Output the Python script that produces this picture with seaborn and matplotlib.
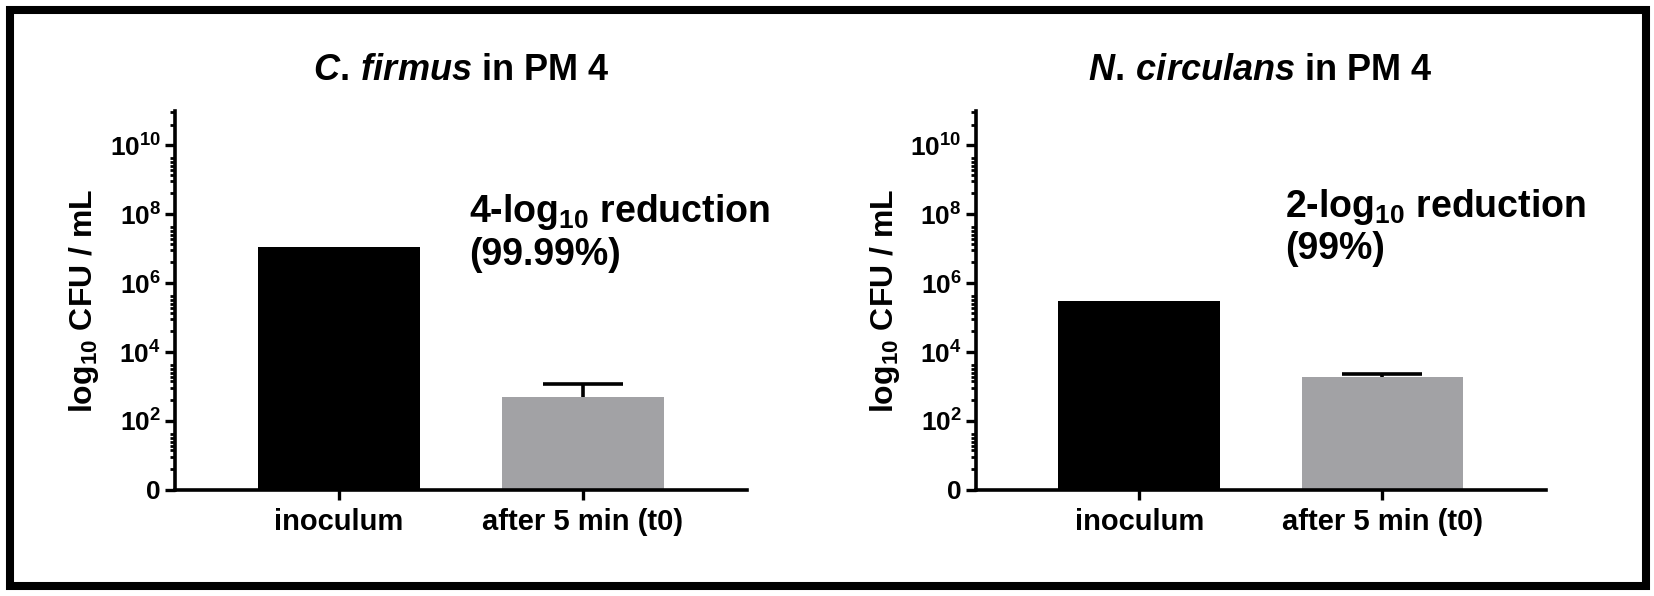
import numpy as np
import pandas as pd
import matplotlib
matplotlib.use("Agg")
import matplotlib.pyplot as plt
import seaborn as sns
from matplotlib.ticker import LogLocator, NullFormatter
from matplotlib.patches import Rectangle

# values (CFU / mL)
conditions = ["inoculum", "after 5 min (t0)"]
firmus_cfu = [1.1e7, 500]
firmus_err = [0, 650]
circulans_cfu = [3.0e5, 1900]
circulans_err = [0, 350]

species = ["C.\\,firmus", "N.\\,circulans"]
notes = ["4-log$_{10}$ reduction\n(99.99%)", "2-log$_{10}$ reduction\n(99%)"]
bar_colors = ["#000000", "#a2a1a6"]

ytick_vals = [1, 1e2, 1e4, 1e6, 1e8, 1e10]
ytick_labels = ["0", "$10^{2}$", "$10^{4}$", "$10^{6}$", "$10^{8}$", "$10^{10}$"]

sns.set_style("ticks")
plt.rcParams["font.family"] = ["Liberation Sans", "DejaVu Sans"]
plt.rcParams["font.weight"] = "bold"
plt.rcParams["mathtext.fontset"] = "custom"
plt.rcParams["mathtext.rm"] = "Liberation Sans:bold"
plt.rcParams["mathtext.bf"] = "Liberation Sans:bold"
plt.rcParams["mathtext.it"] = "Liberation Sans:italic:bold"
for key in ["text.color", "axes.edgecolor", "axes.labelcolor", "xtick.color", "ytick.color"]:
    plt.rcParams[key] = "black"

fig = plt.figure(figsize=(16.54, 5.96), dpi=100)
ax1 = fig.add_axes([0.1058, 0.178, 0.3457, 0.636])
ax2 = fig.add_axes([0.5899, 0.178, 0.3448, 0.636])

panels = [
    (ax1, firmus_cfu, firmus_err, species[0], notes[0], (0.514, 0.785)),
    (ax2, circulans_cfu, circulans_err, species[1], notes[1], (0.543, 0.800)),
]

for ax, cfu, err, name, note, note_xy in panels:
    df = pd.DataFrame({"condition": conditions, "cfu": cfu})
    sns.barplot(data=df, x="condition", y="cfu", hue="condition",
                palette=bar_colors, legend=False, width=0.665,
                linewidth=0, errorbar=None, ax=ax)
    # only the upper half of the error bar, as in the original
    for i, (v, e) in enumerate(zip(cfu, err)):
        if e > 0:
            _, caps, _ = ax.errorbar(i, v, yerr=[[0], [e]], fmt="none", ecolor="black",
                                     elinewidth=2.6, capsize=29, capthick=2.6)
            caps[0].remove()  # drop the lower cap

    ax.set_yscale("log")
    ax.set_ylim(1, 1e11)
    ax.set_xlim(-0.672, 1.672)
    ax.set_yticks(ytick_vals, ytick_labels)
    ax.yaxis.set_minor_locator(LogLocator(base=100, subs=(4, 9, 14, 19, 25, 32, 42), numticks=50))
    ax.yaxis.set_minor_formatter(NullFormatter())

    ax.tick_params(axis="y", which="major", length=7, width=2.4, labelsize=19, pad=3)
    ax.tick_params(axis="y", which="minor", length=3.5, width=2.0)
    ax.tick_params(axis="x", which="major", length=7, width=2.4, labelsize=21, pad=6)
    for lab in ax.get_xticklabels() + ax.get_yticklabels():
        lab.set_fontweight("bold")

    sns.despine(ax=ax)
    for side in ["left", "bottom"]:
        ax.spines[side].set_linewidth(2.6)

    ax.set_xlabel("")
    ax.set_ylabel("log$_{10}$ CFU / mL", fontsize=23, fontweight="bold", labelpad=6)
    ax.set_title(f"$\\mathit{{{name}}}$ in PM 4", fontsize=26, fontweight="bold", pad=22)

    ax.text(note_xy[0], note_xy[1], note, transform=ax.transAxes, fontsize=27,
            fontweight="bold", va="top", ha="left", linespacing=1.15)

# black frame round the whole figure
fig.patches.append(Rectangle((0.006, 0.0168), 0.989, 0.966, transform=fig.transFigure,
                             fill=False, linewidth=5.8, edgecolor="black"))

fig.savefig("out.png", dpi=100)
